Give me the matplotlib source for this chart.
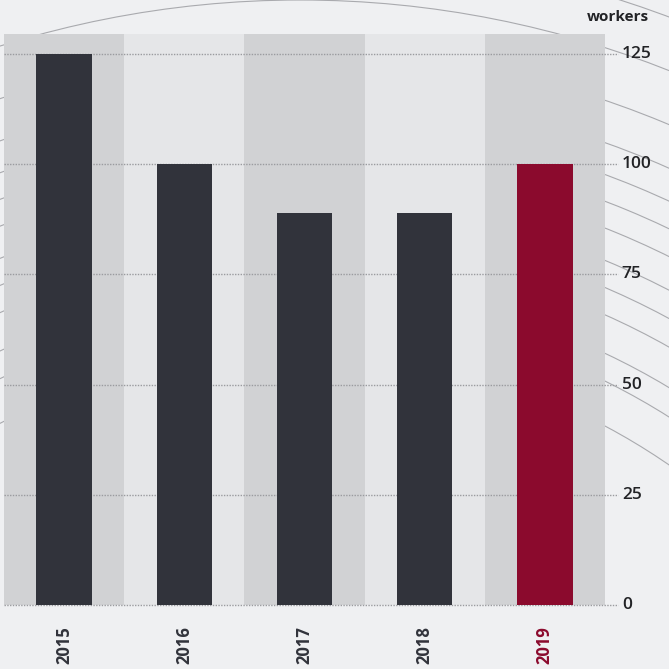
import numpy as np
import matplotlib.pyplot as plt
from matplotlib.patches import Arc

plt.rcParams['font.family'] = ['Open Sans', 'DejaVu Sans']

years = ['2015', '2016', '2017', '2018', '2019']
workers = [125, 100, 89, 89, 100]
yticks = [0, 25, 50, 75, 100, 125]

dark = '#31333b'
red = '#8b0a2d'
bg = '#eff0f2'
band_dark = '#d1d2d4'
band_light = '#e5e6e8'

fig = plt.figure(figsize=(6.69, 6.69), dpi=100, facecolor=bg)

# decorative contour lines in the background
deco = fig.add_axes([0, 0, 1, 1], zorder=0)
deco.set_xlim(0, 669)
deco.set_ylim(669, 0)
deco.axis('off')
for r in [650, 690, 715, 750, 775, 800, 830, 855, 880, 910, 950, 1000, 1050, 1100]:
    deco.add_patch(Arc((300, 1000), 2 * r, 2 * r, color='#a9aaae', lw=0.8))

left, right = 4 / 669, 605 / 669
bottom, top = 64 / 669, 635 / 669
ax = fig.add_axes([left, bottom, right - left, top - bottom], zorder=1)
ax.set_facecolor('none')

x = np.arange(len(years))
ax.set_xlim(-0.5, len(years) - 0.5)
ax.set_ylim(0, 129.5)

for i in x:
    ax.axvspan(i - 0.5, i + 0.5, color=band_dark if i % 2 == 0 else band_light, zorder=0, lw=0)

for v in yticks:
    ax.plot([0, 1.022], [v, v], transform=ax.get_yaxis_transform(), color='#9a9b9f',
            lw=1.0, ls=(0, (1, 1)), clip_on=False, zorder=1)
    ax.text(1.028, v, str(v), transform=ax.get_yaxis_transform(), ha='left', va='center',
            fontsize=12.5, fontweight='semibold', color='#222326')

colors = [dark] * (len(years) - 1) + [red]
ax.bar(x, workers, width=0.46, color=colors, zorder=2)

for i, yr in enumerate(years):
    ax.text(i, -4.8, yr, rotation=90, ha='center', va='top', fontsize=12,
            fontweight='bold', color=colors[i])

fig.text(649 / 669, 1 - 17 / 669, 'workers', ha='right', va='center', fontsize=11,
         fontweight='bold', color='#222326')

for s in ax.spines.values():
    s.set_visible(False)
ax.set_xticks([])
ax.set_yticks([])

fig.savefig('out.png', dpi=100, facecolor=bg)
